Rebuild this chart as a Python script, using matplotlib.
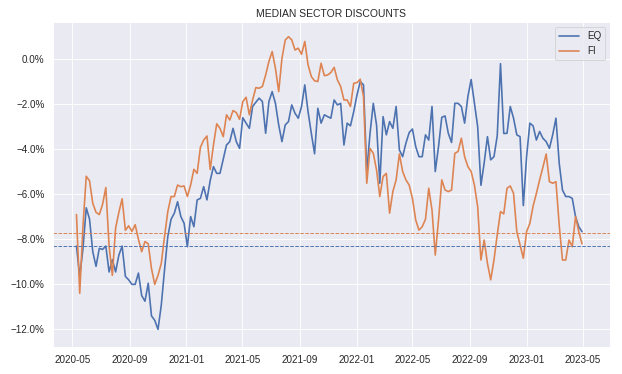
import numpy as np
import pandas as pd
import matplotlib
matplotlib.use("Agg")
import matplotlib.pyplot as plt
import matplotlib.dates as mdates
from matplotlib.ticker import PercentFormatter
import seaborn as sns

# weekly observations (values in %)
dates = pd.date_range("2020-05-10", periods=156, freq="7D")

eq = [-8.3, -9.65, -8.4, -6.6, -7.1, -8.55, -9.2, -8.4, -8.45, -8.3,
      -9.45, -8.9, -9.45, -8.7, -8.3, -9.65, -9.8, -10.0, -10.0, -9.5,
      -10.5, -10.75, -9.95, -11.4, -11.6, -12.0, -10.92, -9.36, -7.88, -7.11,
      -6.84, -6.33, -6.99, -7.29, -8.33, -6.99, -7.44, -6.25, -6.18, -5.66,
      -6.25, -5.39, -4.77, -5.07, -5.07, -4.44, -3.81, -3.66, -3.07, -3.66,
      -3.96, -2.6, -2.84, -3.07, -2.10, -1.91, -1.73, -1.88, -3.29, -1.88,
      -1.44, -1.96, -2.92, -3.66, -2.92, -2.77, -2.03, -2.40, -2.62, -2.10,
      -1.14, -2.33, -3.29, -4.2, -2.18, -2.84, -2.47, -2.55, -2.62, -1.81,
      -2.03, -1.96, -3.81, -2.84, -2.96, -2.33, -1.59, -0.99, -1.14, -5.0,
      -3.29, -1.96, -2.92, -5.51, -2.55, -3.36, -2.77, -3.07, -2.10, -4.03,
      -4.33, -3.73, -3.26, -3.1, -3.88, -4.33, -4.33, -3.36, -3.59, -2.1,
      -4.99, -3.88, -2.58, -2.52, -3.29, -3.70, -1.96, -1.96, -2.10, -2.84,
      -1.66, -0.9, -1.96, -2.99, -5.6, -4.6, -3.44, -4.47, -4.33, -3.4,
      -0.2, -3.3, -3.29, -2.10, -2.62, -3.36, -3.44, -6.5, -4.33, -2.84,
      -2.96, -3.59, -3.21, -3.51, -3.66, -3.96, -3.36, -2.62, -4.62, -5.81,
      -6.10, -6.10, -6.18, -6.99, -7.44, -7.66]

fi = [-6.9, -10.4, -7.4, -5.2, -5.4, -6.4, -6.8, -6.9, -6.45, -5.7,
      -8.3, -9.6, -7.5, -6.8, -6.2, -7.6, -7.4, -7.65, -7.35, -8.0,
      -8.55, -8.1, -8.2, -9.3, -10.0, -9.6, -9.07, -7.88, -6.77, -6.10,
      -6.10, -5.59, -5.66, -5.63, -6.10, -5.59, -4.89, -5.07, -3.91, -3.59,
      -3.41, -4.9, -3.81, -2.87, -3.07, -3.44, -2.47, -2.70, -2.28, -2.37,
      -2.67, -1.88, -1.69, -2.47, -1.81, -1.26, -1.29, -1.21, -0.70, -0.10,
      0.34, -0.40, -1.44, 0.04, 0.85, 1.0, 0.86, 0.41, 0.49, 0.22,
      0.79, -0.25, -0.77, -0.96, -0.99, -0.18, -0.73, -0.70, -0.59, -0.36,
      -0.92, -1.21, -1.81, -1.81, -2.10, -1.07, -1.04, -0.89, -1.66, -5.51,
      -3.96, -4.18, -4.92, -6.10, -5.21, -5.07, -6.84, -5.88, -5.36, -4.21,
      -4.99, -5.36, -5.59, -6.18, -7.14, -7.59, -7.44, -7.11, -5.73, -6.70,
      -8.7, -7.14, -5.36, -5.81, -5.88, -5.81, -4.18, -4.10, -3.51, -4.33,
      -4.77, -4.99, -5.59, -6.55, -8.92, -8.03, -9.07, -9.8, -8.92, -7.8,
      -6.77, -6.87, -5.73, -5.63, -5.96, -7.66, -8.25, -8.84, -7.66, -7.29,
      -6.52, -5.96, -5.36, -4.80, -4.21, -5.44, -5.51, -5.44, -7.36, -8.92,
      -8.92, -8.03, -8.33, -6.99, -7.66, -8.2]

eq_ref = -8.31
fi_ref = -7.73

sns.set_theme()
plt.rcParams['font.family'] = ['Liberation Sans', 'DejaVu Sans']

fig = plt.figure(figsize=(10, 374 / 62.2), dpi=62.2)
ax = fig.add_axes([52.7 / 622, 1 - 346.7 / 374, (610 - 52.7) / 622, (346.7 - 22.3) / 374])

c = sns.color_palette("deep")
ax.plot(dates, eq, color=c[0], lw=1.9, label="EQ")
ax.plot(dates, fi, color=c[1], lw=1.9, label="FI")
ax.axhline(eq_ref, color=c[0], ls="--", lw=1.1)
ax.axhline(fi_ref, color=c[1], ls="--", lw=1.1)

ax.set_xlim(pd.Timestamp("2020-03-20"), pd.Timestamp("2023-06-29"))
ax.set_ylim(-12.77, 1.64)
ax.xaxis.set_major_locator(mdates.MonthLocator(bymonth=[1, 5, 9]))
ax.xaxis.set_major_formatter(mdates.DateFormatter("%Y-%m"))
ax.yaxis.set_major_formatter(PercentFormatter(xmax=100, decimals=1))
ax.tick_params(labelsize=11.5)
ax.set_title("MEDIAN SECTOR DISCOUNTS", fontsize=12)
ax.legend(loc="upper right", fontsize=11.5)

fig.savefig("out.png", dpi=62.2)
